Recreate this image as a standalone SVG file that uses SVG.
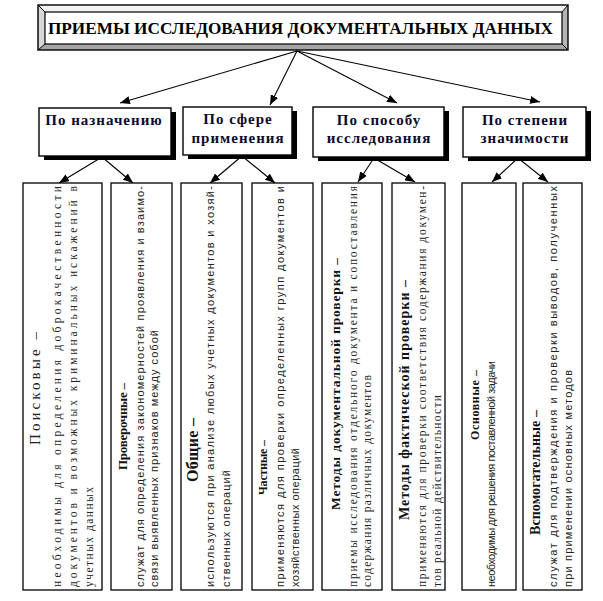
<svg xmlns="http://www.w3.org/2000/svg" width="603" height="601" viewBox="0 0 603 601">
<defs>
<marker id="ah" viewBox="0 0 10 8" refX="10" refY="4" markerWidth="10" markerHeight="8" markerUnits="userSpaceOnUse" orient="auto">
<path d="M0,0 L10,4 L0,8 Z" fill="#000"/>
</marker>
</defs>
<style>
.cat{fill:#fff;stroke:#000;stroke-width:1.4}
.sh{fill:#000}
.ct{font-weight:bold;font-size:15px;fill:#0a0a30;text-anchor:middle;letter-spacing:1px}
.bx{fill:#fff;stroke:#000;stroke-width:1.3}
.ser{font-size:11.5px;fill:#222}
.san{font-size:11px;fill:#222}
.tb{font-weight:bold;fill:#111}
.tn{fill:#222}
.con line{stroke:#000;stroke-width:1.1;marker-end:url(#ah)}
</style>
<rect width="603" height="601" fill="#fff"/>

<g id="title">
<polygon points="38,5 568,5 562,12 45,12" fill="#f2f2f2"/>
<polygon points="38,5 45,12 45,44 38,50" fill="#d6d6d6"/>
<polygon points="38,50 45,44 562,44 568,50" fill="#a6a6a6"/>
<polygon points="568,5 568,50 562,44 562,12" fill="#b4b4b4"/>
<g stroke="#000" stroke-width="1">
<line x1="38" y1="5" x2="45" y2="12"/><line x1="568" y1="5" x2="562" y2="12"/>
<line x1="38" y1="50" x2="45" y2="44"/><line x1="568" y1="50" x2="562" y2="44"/>
</g>
<rect x="45" y="12" width="517" height="32" fill="#fff" stroke="#000" stroke-width="1.2"/>
<rect x="38" y="5" width="530" height="45" fill="none" stroke="#000" stroke-width="1.4"/>
<text x="48" y="34" font-family="Liberation Serif, Times New Roman, serif" font-weight="bold" font-size="16.5" fill="#000" textLength="505" lengthAdjust="spacingAndGlyphs">ПРИЕМЫ ИССЛЕДОВАНИЯ ДОКУМЕНТАЛЬНЫХ ДАННЫХ</text>
</g>

<g id="cat1" font-family="Liberation Serif, Times New Roman, serif">
<rect class="sh" x="44" y="112" width="132" height="48"/>
<rect class="cat" x="39" y="108" width="132" height="48"/>
<text class="ct" x="104" y="125">По назначению</text>
</g>
<g id="cat2" font-family="Liberation Serif, Times New Roman, serif">
<rect class="sh" x="188" y="111" width="109" height="48"/>
<rect class="cat" x="183" y="107" width="109" height="48"/>
<text class="ct" x="238" y="124">По сфере</text>
<text class="ct" x="238" y="143">применения</text>
</g>
<g id="cat3" font-family="Liberation Serif, Times New Roman, serif">
<rect class="sh" x="318" y="111" width="131" height="50"/>
<rect class="cat" x="313" y="107" width="131" height="50"/>
<text class="ct" x="379" y="125">По способу</text>
<text class="ct" x="379" y="143">исследования</text>
</g>
<g id="cat4" font-family="Liberation Serif, Times New Roman, serif">
<rect class="sh" x="468" y="111" width="123" height="50"/>
<rect class="cat" x="463" y="107" width="123" height="50"/>
<text class="ct" x="525" y="125">По степени</text>
<text class="ct" x="525" y="143">значимости</text>
</g>

<g id="connectors" class="con">
<line x1="297" y1="51" x2="120" y2="103"/>
<line x1="297" y1="51" x2="270" y2="105"/>
<line x1="297" y1="51" x2="397" y2="103"/>
<line x1="297" y1="51" x2="540" y2="102"/>
<line x1="102" y1="157" x2="59" y2="183"/>
<line x1="102" y1="157" x2="133" y2="183"/>
<line x1="242" y1="156" x2="210" y2="183"/>
<line x1="242" y1="156" x2="275" y2="183"/>
<line x1="374" y1="158" x2="358" y2="182"/>
<line x1="374" y1="158" x2="415" y2="182"/>
<line x1="518" y1="158" x2="492" y2="182"/>
<line x1="518" y1="158" x2="548" y2="182"/>
</g>

<g id="b1" font-family="Liberation Serif, Times New Roman, serif">
<rect class="bx" x="23" y="183" width="79" height="407"/>
<text class="tn" font-size="15" transform="translate(40,445) rotate(-90)" textLength="113" lengthAdjust="spacing">Поисковые –</text>
<text class="ser" transform="translate(61,587) rotate(-90)" textLength="401" lengthAdjust="spacing">необходимы для определения доброкачественности</text>
<text class="ser" transform="translate(77,587) rotate(-90)" textLength="401" lengthAdjust="spacing">документов и возможных криминальных искажений в</text>
<text class="ser" transform="translate(93,587) rotate(-90)" textLength="100" lengthAdjust="spacing">учетных данных</text>
</g>
<g id="b2">
<rect class="bx" x="111" y="183" width="61" height="407"/>
<text class="tb" font-family="Liberation Serif, Times New Roman, serif" font-size="13" transform="translate(127,470) rotate(-90)" textLength="87" lengthAdjust="spacing">Проверочные –</text>
<text class="san" font-family="Liberation Sans, Arial, sans-serif" transform="translate(144,587) rotate(-90)" textLength="401" lengthAdjust="spacing">служат для определения закономерностей проявления и взаимо-</text>
<text class="san" font-family="Liberation Sans, Arial, sans-serif" transform="translate(158,587) rotate(-90)" textLength="257" lengthAdjust="spacing">связи выявленных признаков между собой</text>
</g>
<g id="b3">
<rect class="bx" x="181" y="183" width="61" height="407"/>
<text class="tb" font-family="Liberation Serif, Times New Roman, serif" font-size="16" transform="translate(198,482) rotate(-90)" textLength="64" lengthAdjust="spacing">Общие –</text>
<text class="san" font-family="Liberation Sans, Arial, sans-serif" transform="translate(214,587) rotate(-90)" textLength="401" lengthAdjust="spacing">используются при анализе любых учетных документов и хозяй-</text>
<text class="san" font-family="Liberation Sans, Arial, sans-serif" transform="translate(230,587) rotate(-90)" textLength="117" lengthAdjust="spacing">ственных операций</text>
</g>
<g id="b4">
<rect class="bx" x="252" y="183" width="61" height="407"/>
<text class="tb" font-family="Liberation Serif, Times New Roman, serif" font-size="12" transform="translate(267,495) rotate(-90)" textLength="55" lengthAdjust="spacing">Частные –</text>
<text class="san" font-family="Liberation Sans, Arial, sans-serif" transform="translate(284,587) rotate(-90)" textLength="401" lengthAdjust="spacing">применяются для проверки определенных групп документов и</text>
<text class="san" font-family="Liberation Sans, Arial, sans-serif" transform="translate(299,587) rotate(-90)" textLength="139" lengthAdjust="spacing">хозяйственных операций</text>
</g>
<g id="b5" font-family="Liberation Serif, Times New Roman, serif">
<rect class="bx" x="322" y="183" width="60" height="407"/>
<text class="tb" font-size="13.5" transform="translate(340,510) rotate(-90)" textLength="252" lengthAdjust="spacing">Методы документальной проверки –</text>
<text class="ser" transform="translate(357,587) rotate(-90)" textLength="401" lengthAdjust="spacing">приемы исследования отдельного документа и сопоставления</text>
<text class="ser" transform="translate(371,587) rotate(-90)" textLength="212" lengthAdjust="spacing">содержания различных документов</text>
</g>
<g id="b6" font-family="Liberation Serif, Times New Roman, serif">
<rect class="bx" x="392" y="183" width="53" height="407"/>
<text class="tb" font-size="14" transform="translate(409,520) rotate(-90)" textLength="240" lengthAdjust="spacing">Методы фактической проверки –</text>
<text class="ser" transform="translate(426,587) rotate(-90)" textLength="401" lengthAdjust="spacing">применяются для проверки соответствия содержания докумен-</text>
<text class="ser" transform="translate(441,587) rotate(-90)" textLength="192" lengthAdjust="spacing">тов реальной действительности</text>
</g>
<g id="b7">
<rect class="bx" x="462" y="183" width="54" height="407"/>
<text class="tb" font-family="Liberation Serif, Times New Roman, serif" font-size="12" transform="translate(479,440) rotate(-90)" textLength="70" lengthAdjust="spacing">Основные –</text>
<text class="san" font-family="Liberation Sans, Arial, sans-serif" font-size="10" transform="translate(495,587) rotate(-90)" textLength="226" lengthAdjust="spacing">необходимы для решения поставленной задачи</text>
</g>
<g id="b8">
<rect class="bx" x="523" y="183" width="59" height="407"/>
<text class="tb" font-family="Liberation Serif, Times New Roman, serif" font-size="14" transform="translate(540,535) rotate(-90)" textLength="125" lengthAdjust="spacing">Вспомогательные –</text>
<text class="san" font-family="Liberation Sans, Arial, sans-serif" transform="translate(557,587) rotate(-90)" textLength="401" lengthAdjust="spacing">служат для подтверждения и проверки выводов, полученных</text>
<text class="san" font-family="Liberation Sans, Arial, sans-serif" transform="translate(572,587) rotate(-90)" textLength="217" lengthAdjust="spacing">при применении основных методов</text>
</g>
</svg>
